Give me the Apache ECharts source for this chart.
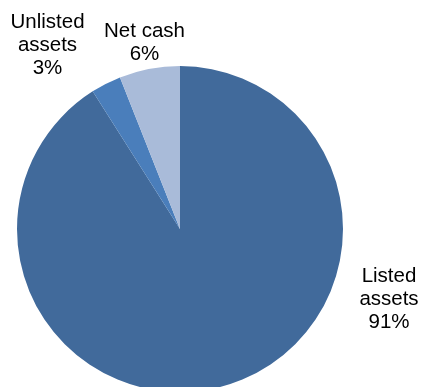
<!DOCTYPE html>
<html>
<head>
<meta charset="utf-8">
<script src="https://cdn.jsdelivr.net/npm/echarts@6/dist/echarts.min.js"></script>
<style>html,body{margin:0;padding:0;background:#fff}#c{width:421px;height:387px}</style>
</head>
<body>
<div id="c"></div>
<script>
const categories = ['Listed\nassets', 'Unlisted\nassets', 'Net cash'];
const values = [91, 3, 6];
const colors = ['#416A9B', '#4A7EBB', '#A9BBD9'];
const labelPos = [[389, 299], [47.5, 45], [144.5, 43]];

const chart = echarts.init(document.getElementById('c'), null, {renderer: 'canvas'});
chart.setOption({
  animation: false,
  series: [{
    type: 'pie',
    center: [180, 229],
    radius: [0, 163],
    startAngle: 90,
    clockwise: true,
    avoidLabelOverlap: false,
    data: categories.map((n, i) => ({name: n, value: values[i], itemStyle: {color: colors[i]}})),
    label: {
      show: true,
      position: 'outside',
      formatter: p => p.name + '\n' + p.value + '%',
      fontFamily: 'Liberation Sans, Arial, sans-serif',
      fontSize: 20.5,
      lineHeight: 23,
      color: '#000',
      align: 'center'
    },
    labelLine: {show: false},
    labelLayout: p => ({x: labelPos[p.dataIndex][0], y: labelPos[p.dataIndex][1], align: 'center', verticalAlign: 'middle', hideOverlap: false, moveOverlap: null}),
    emphasis: {disabled: true}
  }]
});
</script>
</body>
</html>
